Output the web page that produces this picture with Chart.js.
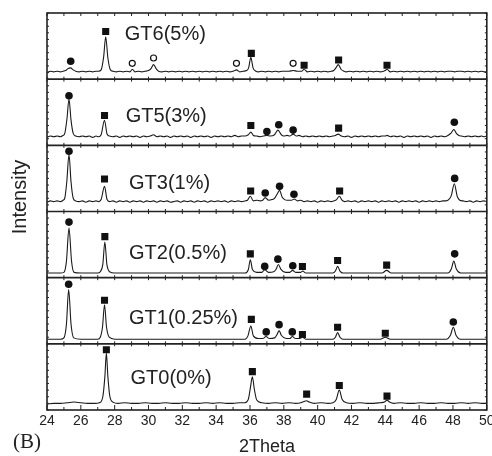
<!DOCTYPE html>
<html>
<head>
<meta charset="utf-8">
<script src="https://cdn.jsdelivr.net/npm/chart.js@4.4.1/dist/chart.umd.min.js"></script>
<style>
  html, body { margin: 0; padding: 0; background: #fff; }
  #wrap { width: 492px; height: 456px; }
</style>
</head>
<body>
<div id="wrap"><canvas id="xrd" width="492" height="456"></canvas></div>
<script>
// samples, bottom panel first
const sampleNames = ['GT0(0%)', 'GT1(0.25%)', 'GT2(0.5%)', 'GT3(1%)', 'GT5(3%)', 'GT6(5%)'];

// label anchors inside each panel (2theta, panel fraction)
const labelX = [28.94, 28.85, 28.85, 28.85, 28.65, 28.6];
const labelY = [0.48, 0.39, 0.37, 0.43, 0.44, 0.67];

// patterns: [2theta, intensity within panel 0..1]
const gt0 = [[24,0.09],[24.4,0.10],[24.8,0.10],[25.2,0.11],[25.6,0.12],[26.0,0.11],[26.4,0.10],[26.8,0.10],[27.1,0.11],[27.3,0.2],[27.42,0.5],[27.51,0.86],[27.6,0.5],[27.72,0.2],[27.9,0.12],[28.2,0.10],[28.6,0.11],[29.0,0.10],[29.4,0.10],[29.8,0.11],[30.2,0.10],[30.6,0.10],[31.0,0.11],[31.4,0.10],[31.8,0.10],[32.2,0.11],[32.6,0.10],[33.0,0.10],[33.4,0.11],[33.8,0.10],[34.2,0.11],[34.6,0.10],[35.0,0.10],[35.4,0.11],[35.7,0.11],[35.9,0.16],[36.02,0.33],[36.14,0.50],[36.26,0.31],[36.4,0.15],[36.7,0.11],[37.1,0.10],[37.5,0.11],[37.9,0.10],[38.3,0.11],[38.7,0.10],[39.0,0.11],[39.2,0.13],[39.35,0.14],[39.5,0.12],[39.8,0.10],[40.2,0.11],[40.6,0.10],[40.9,0.11],[41.1,0.16],[41.28,0.30],[41.45,0.16],[41.7,0.11],[42.1,0.10],[42.5,0.11],[42.9,0.10],[43.3,0.10],[43.7,0.11],[43.95,0.12],[44.1,0.15],[44.25,0.12],[44.5,0.10],[44.9,0.11],[45.3,0.10],[45.7,0.10],[46.1,0.11],[46.5,0.10],[46.9,0.10],[47.3,0.11],[47.7,0.10],[48.1,0.10],[48.5,0.11],[48.9,0.10],[49.3,0.11],[49.7,0.10],[50,0.10]];
const gt1 = [[24,0.07],[24.8,0.07],[25.0,0.09],[25.15,0.3],[25.28,0.82],[25.42,0.3],[25.58,0.09],[26,0.07],[27.0,0.07],[27.15,0.1],[27.28,0.25],[27.4,0.59],[27.52,0.25],[27.68,0.1],[28,0.07],[35.7,0.07],[35.88,0.12],[36.05,0.27],[36.2,0.12],[36.5,0.08],[36.75,0.08],[36.95,0.11],[37.15,0.08],[37.45,0.09],[37.6,0.14],[37.72,0.2],[37.85,0.13],[38.15,0.08],[38.35,0.08],[38.5,0.11],[38.7,0.08],[38.95,0.08],[39.1,0.10],[39.3,0.07],[40.9,0.07],[41.05,0.1],[41.18,0.17],[41.32,0.1],[41.5,0.07],[43.7,0.07],[44.0,0.10],[44.3,0.07],[47.6,0.07],[47.85,0.13],[48.02,0.25],[48.18,0.13],[48.45,0.07],[50,0.07]];
const gt2 = [[24,0.07],[24.8,0.07],[25.0,0.08],[25.15,0.25],[25.3,0.75],[25.45,0.25],[25.6,0.08],[26,0.07],[27.0,0.07],[27.15,0.09],[27.3,0.2],[27.42,0.54],[27.54,0.2],[27.7,0.09],[28,0.07],[35.7,0.07],[35.9,0.12],[36.02,0.27],[36.15,0.12],[36.4,0.08],[36.7,0.08],[36.87,0.12],[37.1,0.08],[37.4,0.09],[37.55,0.13],[37.68,0.2],[37.82,0.13],[38.1,0.08],[38.35,0.08],[38.52,0.11],[38.7,0.08],[39.0,0.08],[39.12,0.10],[39.3,0.07],[40.9,0.07],[41.05,0.1],[41.18,0.17],[41.32,0.1],[41.5,0.07],[43.8,0.07],[44.08,0.11],[44.35,0.07],[47.7,0.07],[47.9,0.13],[48.05,0.25],[48.2,0.13],[48.45,0.07],[50,0.07]];
const gt3 = [[24,0.14],[24.2,0.16],[24.4,0.15],[24.6,0.16],[24.8,0.15],[24.95,0.17],[25.05,0.2],[25.17,0.45],[25.3,0.86],[25.42,0.45],[25.55,0.2],[25.7,0.16],[25.9,0.15],[26.1,0.16],[26.3,0.14],[26.5,0.16],[26.7,0.15],[26.9,0.16],[27.05,0.15],[27.2,0.18],[27.4,0.38],[27.55,0.18],[27.7,0.15],[27.9,0.16],[28.1,0.14],[28.3,0.16],[28.5,0.15],[28.7,0.16],[28.9,0.14],[29.1,0.16],[29.3,0.15],[29.5,0.16],[29.7,0.14],[29.9,0.16],[30.1,0.15],[30.3,0.16],[30.5,0.14],[30.7,0.16],[30.9,0.15],[31.1,0.16],[31.3,0.14],[31.5,0.15],[31.7,0.16],[31.9,0.14],[32.1,0.16],[32.3,0.15],[32.5,0.16],[32.7,0.14],[32.9,0.16],[33.1,0.15],[33.3,0.16],[33.5,0.14],[33.7,0.16],[33.9,0.15],[34.1,0.16],[34.3,0.15],[34.5,0.16],[34.7,0.14],[34.9,0.16],[35.1,0.15],[35.3,0.16],[35.5,0.15],[35.7,0.16],[35.85,0.17],[36.02,0.23],[36.2,0.16],[36.4,0.17],[36.6,0.16],[36.75,0.17],[36.9,0.21],[37.1,0.17],[37.3,0.18],[37.45,0.2],[37.6,0.26],[37.75,0.32],[37.9,0.22],[38.05,0.18],[38.2,0.17],[38.45,0.17],[38.62,0.19],[38.8,0.16],[39.0,0.17],[39.2,0.15],[39.4,0.16],[39.6,0.15],[39.8,0.16],[40.0,0.14],[40.2,0.16],[40.4,0.15],[40.6,0.16],[40.8,0.15],[40.95,0.16],[41.12,0.18],[41.28,0.23],[41.45,0.17],[41.6,0.15],[41.8,0.16],[42.0,0.15],[42.2,0.16],[42.4,0.14],[42.6,0.16],[42.8,0.15],[43.0,0.16],[43.2,0.15],[43.4,0.16],[43.6,0.14],[43.8,0.16],[44.0,0.15],[44.2,0.16],[44.4,0.15],[44.6,0.16],[44.8,0.14],[45.0,0.16],[45.2,0.15],[45.4,0.16],[45.6,0.15],[45.8,0.16],[46.0,0.14],[46.2,0.16],[46.4,0.15],[46.6,0.16],[46.8,0.15],[47.0,0.16],[47.2,0.15],[47.4,0.16],[47.6,0.16],[47.75,0.18],[47.9,0.24],[48.08,0.42],[48.25,0.23],[48.4,0.17],[48.6,0.16],[48.8,0.15],[49.0,0.16],[49.2,0.14],[49.4,0.16],[49.6,0.15],[49.8,0.16],[50,0.15]];
const gt5 = [[24,0.12],[24.2,0.14],[24.4,0.13],[24.6,0.14],[24.8,0.13],[24.95,0.15],[25.05,0.18],[25.18,0.4],[25.3,0.70],[25.42,0.38],[25.55,0.18],[25.7,0.14],[25.9,0.13],[26.1,0.14],[26.3,0.13],[26.5,0.14],[26.7,0.12],[26.9,0.14],[27.05,0.13],[27.2,0.16],[27.4,0.38],[27.55,0.17],[27.7,0.14],[27.9,0.13],[28.1,0.14],[28.3,0.12],[28.5,0.14],[28.7,0.13],[28.9,0.14],[29.1,0.13],[29.3,0.14],[29.5,0.12],[29.7,0.14],[29.9,0.13],[30.1,0.14],[30.3,0.16],[30.5,0.13],[30.7,0.14],[30.9,0.13],[31.1,0.14],[31.3,0.12],[31.5,0.14],[31.7,0.13],[31.9,0.14],[32.1,0.13],[32.3,0.14],[32.5,0.12],[32.7,0.14],[32.9,0.13],[33.1,0.14],[33.3,0.13],[33.5,0.14],[33.7,0.12],[33.9,0.14],[34.1,0.13],[34.3,0.14],[34.5,0.13],[34.7,0.14],[34.9,0.13],[35.1,0.15],[35.3,0.13],[35.5,0.14],[35.7,0.14],[35.9,0.16],[36.05,0.20],[36.2,0.15],[36.4,0.14],[36.6,0.13],[36.8,0.14],[37.0,0.15],[37.2,0.14],[37.45,0.16],[37.65,0.23],[37.85,0.16],[38.0,0.14],[38.2,0.15],[38.35,0.14],[38.55,0.17],[38.75,0.14],[38.9,0.15],[39.1,0.13],[39.3,0.14],[39.5,0.13],[39.7,0.14],[39.9,0.13],[40.1,0.14],[40.3,0.13],[40.5,0.14],[40.7,0.13],[40.9,0.14],[41.05,0.15],[41.22,0.17],[41.4,0.14],[41.6,0.13],[41.8,0.14],[42.0,0.12],[42.2,0.14],[42.4,0.13],[42.6,0.14],[42.8,0.13],[43.0,0.14],[43.2,0.13],[43.4,0.14],[43.6,0.13],[43.8,0.14],[44.0,0.14],[44.1,0.15],[44.3,0.13],[44.5,0.14],[44.7,0.13],[44.9,0.14],[45.1,0.12],[45.3,0.14],[45.5,0.13],[45.7,0.14],[45.9,0.13],[46.1,0.14],[46.3,0.13],[46.5,0.14],[46.7,0.12],[46.9,0.14],[47.1,0.13],[47.3,0.14],[47.5,0.13],[47.7,0.15],[47.9,0.19],[48.05,0.24],[48.2,0.18],[48.35,0.15],[48.5,0.14],[48.7,0.13],[48.9,0.14],[49.1,0.13],[49.3,0.14],[49.5,0.13],[49.7,0.14],[49.85,0.13],[50,0.14]];
const gt6 = [[24,0.10],[24.2,0.12],[24.4,0.11],[24.6,0.12],[24.8,0.11],[24.95,0.12],[25.1,0.13],[25.25,0.16],[25.4,0.17],[25.55,0.14],[25.7,0.12],[25.9,0.11],[26.1,0.12],[26.3,0.11],[26.5,0.12],[26.7,0.11],[26.9,0.12],[27.05,0.12],[27.2,0.14],[27.35,0.34],[27.47,0.64],[27.6,0.32],[27.75,0.14],[27.9,0.12],[28.1,0.11],[28.3,0.12],[28.5,0.11],[28.7,0.12],[28.9,0.11],[29.05,0.15],[29.2,0.11],[29.4,0.12],[29.6,0.11],[29.8,0.12],[30.0,0.13],[30.15,0.16],[30.3,0.22],[30.45,0.16],[30.6,0.12],[30.8,0.11],[31.0,0.12],[31.2,0.11],[31.4,0.12],[31.6,0.11],[31.8,0.12],[32.0,0.11],[32.2,0.12],[32.4,0.11],[32.6,0.12],[32.8,0.11],[33.0,0.12],[33.2,0.11],[33.4,0.12],[33.6,0.11],[33.8,0.12],[34.0,0.11],[34.2,0.12],[34.4,0.11],[34.6,0.12],[34.8,0.11],[35.0,0.12],[35.2,0.14],[35.4,0.11],[35.6,0.12],[35.8,0.13],[35.92,0.17],[36.05,0.33],[36.18,0.17],[36.35,0.12],[36.5,0.11],[36.7,0.12],[36.9,0.11],[37.1,0.12],[37.3,0.11],[37.5,0.12],[37.7,0.11],[37.9,0.12],[38.1,0.12],[38.3,0.12],[38.55,0.13],[38.8,0.12],[39.05,0.12],[39.2,0.15],[39.4,0.11],[39.6,0.12],[39.8,0.11],[40.0,0.12],[40.2,0.11],[40.4,0.12],[40.6,0.11],[40.8,0.12],[40.95,0.13],[41.08,0.17],[41.22,0.22],[41.38,0.15],[41.55,0.12],[41.7,0.11],[41.9,0.12],[42.1,0.11],[42.3,0.12],[42.5,0.11],[42.7,0.12],[42.9,0.11],[43.1,0.12],[43.3,0.11],[43.5,0.12],[43.7,0.11],[43.9,0.12],[44.0,0.13],[44.1,0.15],[44.3,0.11],[44.5,0.12],[44.7,0.11],[44.9,0.12],[45.1,0.11],[45.3,0.12],[45.5,0.11],[45.7,0.12],[45.9,0.11],[46.1,0.12],[46.3,0.11],[46.5,0.12],[46.7,0.11],[46.9,0.12],[47.1,0.11],[47.3,0.12],[47.5,0.11],[47.7,0.12],[47.9,0.12],[48.1,0.11],[48.3,0.12],[48.5,0.12],[48.7,0.11],[48.9,0.12],[49.1,0.11],[49.3,0.12],[49.5,0.11],[49.7,0.12],[49.85,0.11],[50,0.11]];
const patterns = [gt0, gt1, gt2, gt3, gt5, gt6];

// phase markers above the peaks
const squares0 = [[27.51,0.91],[36.14,0.58],[39.35,0.24],[41.28,0.37],[44.1,0.21]];
const squares1 = [[27.4,0.66],[36.08,0.37],[39.1,0.14],[41.18,0.25],[44.0,0.16]];
const squares2 = [[27.42,0.62],[36.02,0.36],[39.1,0.17],[41.18,0.26],[44.08,0.19]];
const squares3 = [[27.4,0.49],[36.04,0.31],[41.3,0.31]];
const squares5 = [[27.4,0.45],[36.05,0.30],[41.24,0.26]];
const squares6 = [[27.47,0.72],[36.08,0.39],[39.2,0.21],[41.24,0.29],[44.1,0.21]];
const dots1 = [[25.28,0.90],[36.96,0.18],[37.72,0.29],[38.5,0.18],[48.02,0.33]];
const dots2 = [[25.3,0.84],[36.87,0.17],[37.65,0.28],[38.53,0.18],[48.1,0.36]];
const dots3 = [[25.3,0.91],[36.9,0.28],[37.75,0.38],[38.6,0.26],[48.1,0.50]];
const dots5 = [[25.3,0.75],[37.0,0.21],[37.7,0.31],[38.55,0.23],[48.08,0.35]];
const dots6 = [[25.4,0.27]];
const rings6 = [[29.04,0.24],[30.3,0.32],[35.2,0.24],[38.55,0.24]];
const squares = [squares0, squares1, squares2, squares3, squares5, squares6];
const dots = [[], dots1, dots2, dots3, dots5, dots6];
const rings = [[], [], [], [], [], rings6];

const xTicks = [24, 26, 28, 30, 32, 34, 36, 38, 40, 42, 44, 46, 48, 50];

function toPoints(list, offset) {
    return list.map(p => ({ x: p[0], y: p[1] + offset }));
}

const datasets = [];
patterns.forEach((pat, k) => {
    datasets.push({
        type: 'line',
        data: toPoints(pat, k),
        borderColor: '#1a1a1a',
        borderWidth: 1.1,
        pointRadius: 0,
        cubicInterpolationMode: 'monotone',
        fill: false
    });
    datasets.push({
        type: 'scatter',
        data: toPoints(squares[k], k),
        pointStyle: 'rect',
        pointRadius: 5,
        backgroundColor: '#111',
        borderColor: '#111',
        borderWidth: 0
    });
    datasets.push({
        type: 'scatter',
        data: toPoints(dots[k], k),
        pointStyle: 'circle',
        pointRadius: 3.8,
        backgroundColor: '#111',
        borderColor: '#111',
        borderWidth: 0
    });
    datasets.push({
        type: 'scatter',
        data: toPoints(rings[k], k),
        pointStyle: 'circle',
        pointRadius: 3,
        backgroundColor: '#fff',
        borderColor: '#111',
        borderWidth: 1.2
    });
});

// frame, panel separators, inward ticks and texts
const framePlugin = {
    id: 'frame',
    afterDatasetsDraw(chart) {
        const ctx = chart.ctx;
        const area = chart.chartArea;
        const xs = chart.scales.x;
        const ys = chart.scales.y;
        ctx.save();
        ctx.strokeStyle = '#222';
        ctx.lineWidth = 1.6;
        ctx.strokeRect(area.left, area.top, area.right - area.left, area.bottom - area.top);
        for (let k = 1; k < sampleNames.length; k++) {
            const yy = ys.getPixelForValue(k);
            ctx.beginPath();
            ctx.moveTo(area.left, yy);
            ctx.lineTo(area.right, yy);
            ctx.stroke();
        }
        // tick marks along every panel edge
        ctx.lineWidth = 1;
        for (let v = 24; v <= 50; v++) {
            const px = xs.getPixelForValue(v);
            const major = v % 2 === 0;
            ctx.beginPath();
            ctx.moveTo(px, area.bottom);
            ctx.lineTo(px, area.bottom - (major ? 5 : 3));
            ctx.moveTo(px, area.top);
            ctx.lineTo(px, area.top + 3);
            for (let k = 1; k < sampleNames.length; k++) {
                const yy = ys.getPixelForValue(k);
                ctx.moveTo(px, yy - 2.5);
                ctx.lineTo(px, yy + 2.5);
            }
            ctx.stroke();
        }
        ctx.beginPath();
        for (let t = 0; t <= 60; t++) {
            const yy = ys.getPixelForValue(t / 10);
            ctx.moveTo(area.left, yy);
            ctx.lineTo(area.left + 2, yy);
            ctx.moveTo(area.right, yy);
            ctx.lineTo(area.right - 2, yy);
        }
        ctx.stroke();

        // sample labels
        ctx.fillStyle = '#222';
        ctx.font = '20px "Liberation Sans", Arial, sans-serif';
        ctx.textAlign = 'left';
        ctx.textBaseline = 'middle';
        sampleNames.forEach((name, k) => {
            ctx.fillText(name, xs.getPixelForValue(labelX[k]), ys.getPixelForValue(k + labelY[k]));
        });

        // y title
        ctx.save();
        ctx.translate(20, 197);
        ctx.rotate(-Math.PI / 2);
        ctx.textAlign = 'center';
        ctx.fillText('Intensity', 0, 0);
        ctx.restore();

        // panel tag
        ctx.font = '21px "Liberation Serif", "Times New Roman", serif';
        ctx.textAlign = 'left';
        ctx.fillText('(B)', 13, 442);
        ctx.restore();
    }
};

new Chart(document.getElementById('xrd').getContext('2d'), {
    type: 'line',
    data: { datasets: datasets },
    options: {
        responsive: false,
        animation: false,
        layout: { padding: { top: 13, right: 3, left: 0, bottom: 0 } },
        plugins: {
            legend: { display: false },
            tooltip: { enabled: false }
        },
        scales: {
            x: {
                type: 'linear',
                min: 24,
                max: 50,
                afterBuildTicks: scale => { scale.ticks = xTicks.map(v => ({ value: v })); },
                afterFit: scale => {
                    scale.height = 46;
                    scale.paddingLeft = 0;
                    scale.paddingRight = 0;
                },
                grid: { display: false, drawTicks: false },
                border: { display: false },
                ticks: {
                    padding: 3,
                    maxRotation: 0,
                    autoSkip: false,
                    color: '#222',
                    font: { family: '"Liberation Sans", Arial, sans-serif', size: 14 }
                },
                title: {
                    display: true,
                    text: '2Theta',
                    color: '#222',
                    padding: { top: 0, bottom: 0 },
                    font: { family: '"Liberation Sans", Arial, sans-serif', size: 18, lineHeight: 1 }
                }
            },
            y: {
                type: 'linear',
                min: 0,
                max: 6,
                afterFit: scale => { scale.width = 47; },
                grid: { display: false },
                border: { display: false },
                ticks: { display: false }
            }
        }
    },
    plugins: [framePlugin]
});
</script>
</body>
</html>
